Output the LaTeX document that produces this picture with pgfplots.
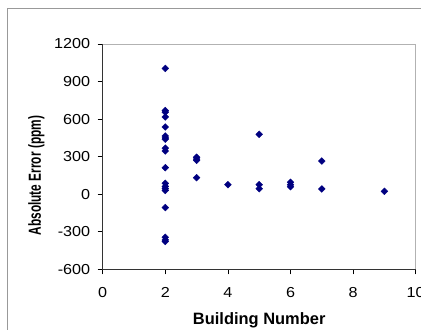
\documentclass[border=0pt]{standalone}
\usepackage{pgfplots}
\pgfplotsset{compat=1.18}
\usepackage{fontspec}
\setmainfont{Liberation Sans}
\newfontfamily\condbold[FakeStretch=0.68]{Liberation Sans}
\newfontfamily\widefont[FakeStretch=1.12]{Liberation Sans}
\definecolor{navy}{HTML}{000080}
\begin{document}
\begin{tikzpicture}[x=1bp,y=1bp]
\path[use as bounding box] (0,0) rectangle (421,330);
\clip (0,0) rectangle (421,330);
\draw[color=gray!80, line width=0.8bp] (7,-20) -- (7,322) -- (440,322);
\begin{axis}[
  at={(102.7bp,60.7bp)}, anchor=south west,
  scale only axis, width=313bp, height=225.3bp,
  xmin=0, xmax=10, ymin=-600, ymax=1200,
  xtick={0,2,4,6,8,10}, ytick={-600,-300,0,300,600,900,1200},
  tick align=outside, xtick pos=left, ytick pos=left,
  major tick length=5bp,
  tick style={black, line width=0.6bp},
  axis line style={draw=gray!60, line width=0.8bp},
  /pgf/number format/assume math mode=true,
  /pgf/number format/1000 sep={},
  tick label style={font=\widefont\fontsize{14.5}{16}\selectfont},
  xticklabel style={yshift=-10bp},
  yticklabel style={xshift=-4bp},
  xlabel={Building Number},
  ylabel={\condbold\bfseries Absolute Error (ppm)},
  xlabel style={font=\bfseries\fontsize{16.5}{18}\selectfont, at={(axis description cs:0.5,0)}, anchor=base, yshift=-54.7bp},
  ylabel style={font=\fontsize{17.5}{19}\selectfont, at={(axis description cs:-0.212,0.416)}, anchor=center, rotate=0},
  clip=false,
]
\addplot[only marks, mark=square*, mark size=2.4bp, mark options={rotate=45, fill=navy, draw=navy}, color=navy] coordinates {
(2,1005) (2,668) (2,655) (2,617) (2,537) (2,465) (2,450) (2,440) (2,368) (2,345) (2,212) (2,87) (2,62) (2,45) (2,30) (2,-107) (2,-344) (2,-365) (2,-378)
(3,295) (3,280) (3,270) (3,132)
(4,76)
(5,478) (5,76) (5,44)
(6,95) (6,75) (6,60)
(7,265) (7,42)
(9,23)
};
\draw[black!80, line width=0.8bp] (rel axis cs:0,1) -- (rel axis cs:0,0) -- (rel axis cs:1,0);
\end{axis}
\end{tikzpicture}
\end{document}
